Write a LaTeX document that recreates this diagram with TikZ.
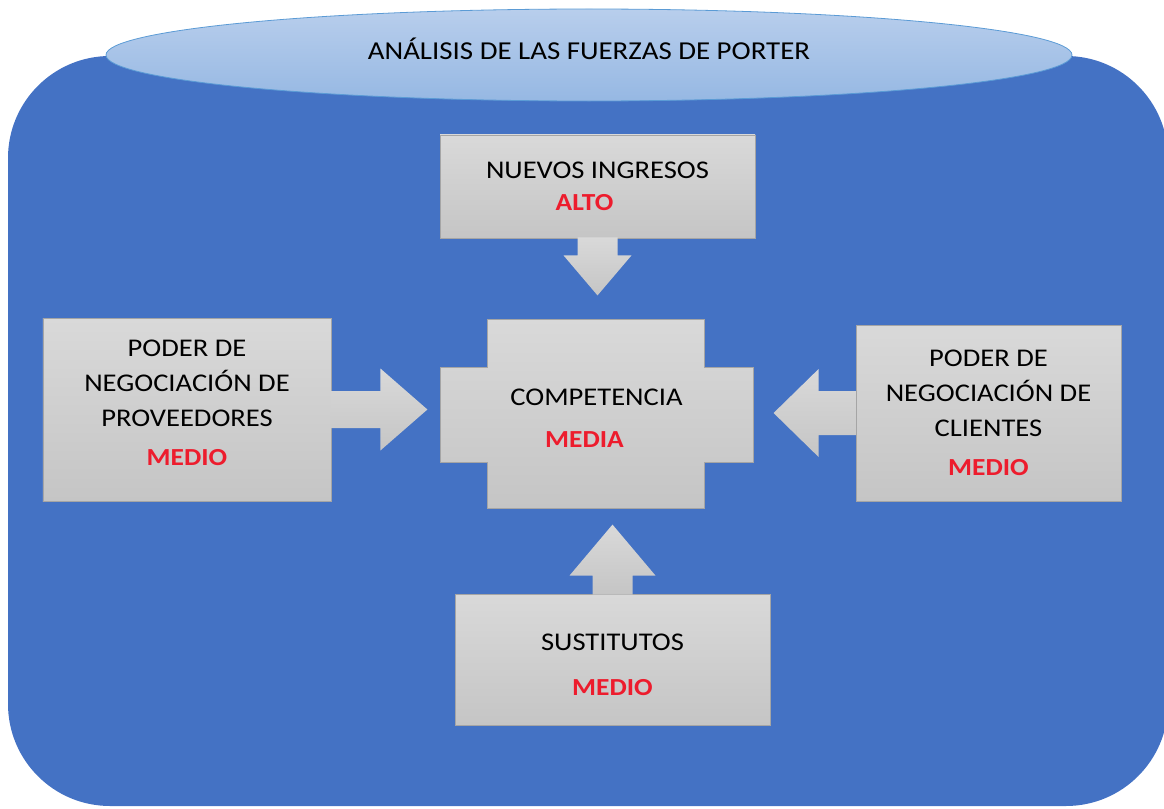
\documentclass[tikz,border=0pt]{standalone}
\usepackage{fontspec}
\setmainfont[FakeStretch=1.12]{Carlito}
\usetikzlibrary{calc}
\usetikzlibrary{shapes.geometric}
\definecolor{bgblue}{RGB}{68,114,196}
\definecolor{titletop}{RGB}{184,206,236}
\definecolor{titlebot}{RGB}{150,184,227}
\definecolor{titleline}{RGB}{91,155,213}
\definecolor{boxtop}{RGB}{217,217,217}
\definecolor{boxbot}{RGB}{197,197,197}
\definecolor{boxline}{RGB}{165,165,165}
\definecolor{levelred}{RGB}{237,28,45}
\tikzstyle{force}=[draw=boxline,line width=0.8bp,top color=boxtop,bottom color=boxbot,align=center,inner sep=0pt,font=\fontsize{25.5bp}{35bp}\selectfont]
\tikzstyle{forcetext}=[align=center,inner sep=0pt,font=\fontsize{25.5bp}{35bp}\selectfont]
\tikzstyle{push}=[top color=boxtop,bottom color=boxbot]
\newcommand{\nivel}[1]{{\color{levelred}\bfseries\fontsize{24.5bp}{28bp}\selectfont #1}}

\begin{document}
\begin{tikzpicture}[x=1bp,y=-1bp]
    \useasboundingbox (0,0) rectangle (1164,809);
    % Frame and title
    \fill[bgblue, rounded corners=102bp] (8,56) rectangle (1168,806);
    \node[ellipse, draw=titleline, line width=0.8bp, top color=titletop, bottom color=titlebot,
          minimum width=966bp, minimum height=92bp, inner sep=0pt] (title) at (589,55) {};
    \node[font=\fontsize{25.8bp}{28bp}\selectfont, inner sep=0pt] (titletext) at (589,49) {ANÁLISIS DE LAS FUERZAS DE PORTER};

    % The four forces
    \node[force, minimum width=315bp, minimum height=103bp] (ingresos) at (597.5,186.5)
        {NUEVOS INGRESOS\\[-2.5bp]\nivel{ALTO}\hspace*{26bp}};
    \node[force, minimum width=288bp, minimum height=183bp, text depth=14bp] (proveedores) at (187,409.5)
        {PODER DE\\NEGOCIACIÓN DE\\PROVEEDORES\\[4bp]\nivel{MEDIO}};
    \node[force, minimum width=265bp, minimum height=176bp] (clientes) at (988.5,413)
        {PODER DE\\NEGOCIACIÓN DE\\CLIENTES\\[4bp]\nivel{MEDIO}};
    \node[force, minimum width=315bp, minimum height=131bp, text height=72bp] (sustitutos) at (612.5,659.5)
        {SUSTITUTOS\\[10bp]\nivel{MEDIO}};

    % Competition in the middle
    \path[draw=boxline, line width=0.8bp, top color=boxtop, bottom color=boxbot]
        (487,319) -- (704,319) -- (704,367) -- (753,367) -- (753,462) -- (704,462)
        -- (704,508) -- (487,508) -- (487,462) -- (440,462) -- (440,367) -- (487,367) -- cycle;
    \node[forcetext, minimum width=313bp, minimum height=95bp, text height=66bp] (comp) at (596.5,414.5)
        {COMPETENCIA\\[7bp]\nivel{MEDIA}\hspace*{24bp}};

    % Block arrows towards the competition
    \path[push] ($(ingresos.south)+(-20,-1)$) -- ++(0,18) -- ++(-14,0) -- ($(ingresos.south)+(0,57)$)
        -- ($(ingresos.south)+(34,17)$) -- ++(-14,0) -- ++(0,-18) -- cycle;
    \path[push] ($(sustitutos.north)+(-20,1)$) -- ++(0,-19) -- ++(-23,0) -- ($(sustitutos.north)+(0,-69)$)
        -- ($(sustitutos.north)+(43,-18)$) -- ++(-23,0) -- ++(0,19) -- cycle;
    \path[push] ($(proveedores.east)+(-1,-18.5)$) -- ++(50,0) -- ++(0,-22.5) -- ($(proveedores.east)+(96,0)$)
        -- ($(proveedores.east)+(49,41)$) -- ++(0,-22.5) -- ++(-50,0) -- cycle;
    \path[push] ($(clientes.west)+(1,-22)$) -- ++(-38,0) -- ++(0,-22) -- ($(clientes.west)+(-82,0)$)
        -- ($(clientes.west)+(-37,44)$) -- ++(0,-22) -- ++(38,0) -- cycle;
\end{tikzpicture}
\end{document}
